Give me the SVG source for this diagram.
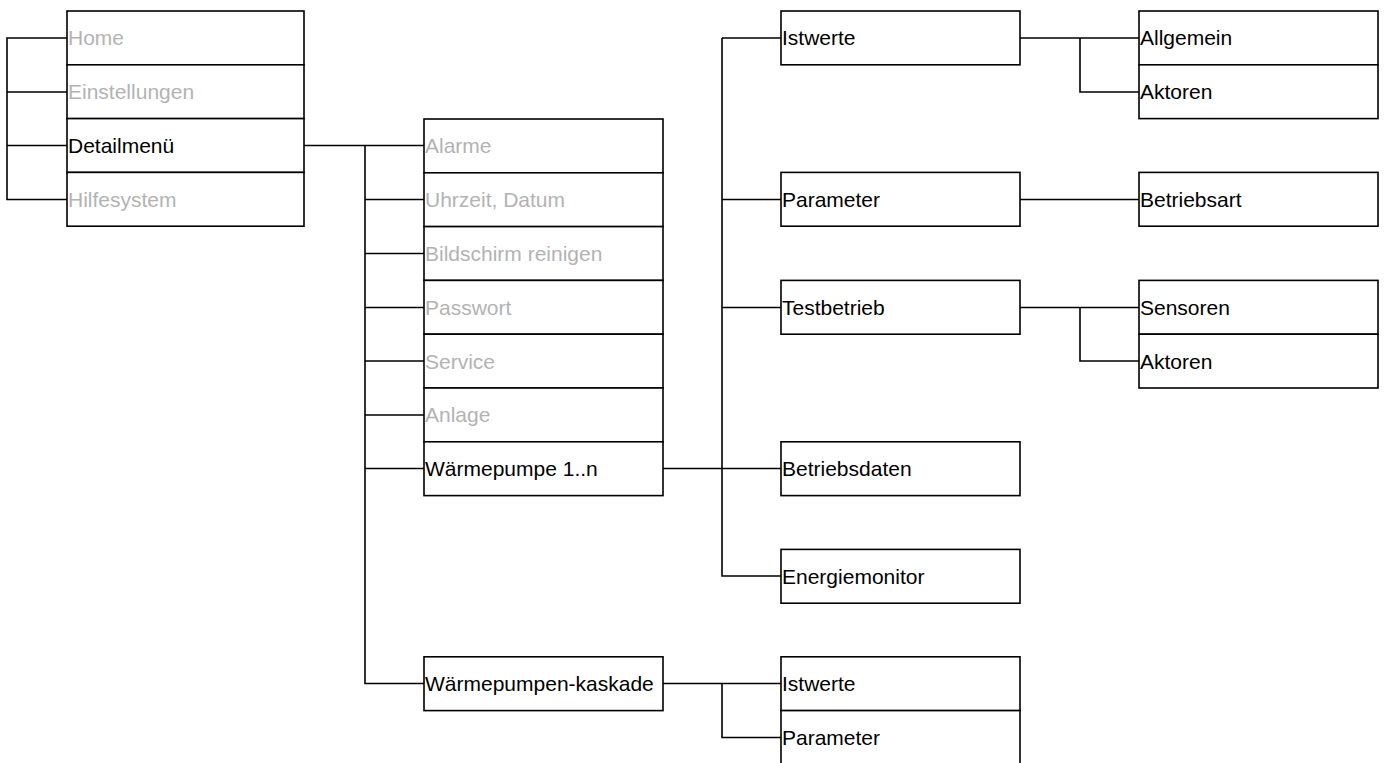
<svg xmlns="http://www.w3.org/2000/svg" width="1391" height="763" viewBox="0 0 1391 763">
  <style>
    .box { fill: #ffffff; stroke: #000000; stroke-width: 1.6; }
    .lbl { font-family: "Liberation Sans", Arial, sans-serif; font-size: 21px; fill: #000000; }
    .dim { fill: #b3b3b3; }
    .wire { fill: none; stroke: #000000; stroke-width: 1.6; }
  </style>
  <rect width="1391" height="763" fill="#ffffff"/>

  <!-- tree lines -->
  <g id="connectors">
    <!-- main menu bracket -->
    <path class="wire" d="M67 38 H7 V199.5 H67 M7 92 H67 M7 145.5 H67"/>
    <!-- Detailmenü submenu -->
    <path class="wire" d="M304 145.5 H424 M365 145.5 V683.5 H424 M365 199.5 H424 M365 253.5 H424 M365 307.5 H424 M365 361 H424 M365 415 H424 M365 468.5 H424"/>
    <!-- Wärmepumpe 1..n submenu -->
    <path class="wire" d="M663 468.5 H781 M722 38 V576 H781 M722 38 H781 M722 199.5 H781 M722 307.5 H781"/>
    <!-- Istwerte -->
    <path class="wire" d="M1020 38 H1139 M1080 38 V92 H1139"/>
    <!-- Parameter -->
    <path class="wire" d="M1020 199.5 H1139"/>
    <!-- Testbetrieb -->
    <path class="wire" d="M1020 307.5 H1139 M1080 307.5 V361 H1139"/>
    <!-- Wärmepumpen-kaskade -->
    <path class="wire" d="M663 683.5 H781 M722 683.5 V737.5 H781"/>
  </g>

  <!-- main menu -->
  <g id="home"><rect class="box" x="67" y="11" width="237" height="53.8"/><text class="lbl dim" x="68" y="45.3">Home</text></g>
  <g id="einstellungen"><rect class="box" x="67" y="64.8" width="237" height="53.8"/><text class="lbl dim" x="68" y="99.1">Einstellungen</text></g>
  <g id="detailmenue"><rect class="box" x="67" y="118.6" width="237" height="53.8"/><text class="lbl" x="68" y="152.9">Detailmenü</text></g>
  <g id="hilfesystem"><rect class="box" x="67" y="172.4" width="237" height="53.8"/><text class="lbl dim" x="68" y="206.7">Hilfesystem</text></g>

  <!-- Detailmenü entries -->
  <g id="alarme"><rect class="box" x="424" y="119" width="239" height="53.8"/><text class="lbl dim" x="425" y="153.3">Alarme</text></g>
  <g id="uhrzeit"><rect class="box" x="424" y="172.8" width="239" height="53.8"/><text class="lbl dim" x="425" y="207.1">Uhrzeit, Datum</text></g>
  <g id="bildschirm"><rect class="box" x="424" y="226.6" width="239" height="53.8"/><text class="lbl dim" x="425" y="260.9">Bildschirm reinigen</text></g>
  <g id="passwort"><rect class="box" x="424" y="280.4" width="239" height="53.8"/><text class="lbl dim" x="425" y="314.7">Passwort</text></g>
  <g id="service"><rect class="box" x="424" y="334.2" width="239" height="53.8"/><text class="lbl dim" x="425" y="368.5">Service</text></g>
  <g id="anlage"><rect class="box" x="424" y="388" width="239" height="53.8"/><text class="lbl dim" x="425" y="422.3">Anlage</text></g>
  <g id="waermepumpe"><rect class="box" x="424" y="441.8" width="239" height="53.8"/><text class="lbl" x="425" y="476.1">Wärmepumpe 1..n</text></g>
  <g id="kaskade"><rect class="box" x="424" y="656.8" width="239" height="53.8"/><text class="lbl" x="425" y="691.1">Wärmepumpen-kaskade</text></g>

  <!-- Wärmepumpe 1..n entries -->
  <g id="wp-istwerte"><rect class="box" x="781" y="11" width="239" height="53.8"/><text class="lbl" x="782" y="45.3">Istwerte</text></g>
  <g id="wp-parameter"><rect class="box" x="781" y="172.4" width="239" height="53.8"/><text class="lbl" x="782" y="206.7">Parameter</text></g>
  <g id="wp-testbetrieb"><rect class="box" x="781" y="280.4" width="239" height="53.8"/><text class="lbl" x="782" y="314.7">Testbetrieb</text></g>
  <g id="wp-betriebsdaten"><rect class="box" x="781" y="441.8" width="239" height="53.8"/><text class="lbl" x="782" y="476.1">Betriebsdaten</text></g>
  <g id="wp-energiemonitor"><rect class="box" x="781" y="549.4" width="239" height="53.8"/><text class="lbl" x="782" y="583.7">Energiemonitor</text></g>

  <!-- Kaskade entries -->
  <g id="k-istwerte"><rect class="box" x="781" y="656.8" width="239" height="53.8"/><text class="lbl" x="782" y="691.1">Istwerte</text></g>
  <g id="k-parameter"><rect class="box" x="781" y="710.6" width="239" height="53.8"/><text class="lbl" x="782" y="744.9">Parameter</text></g>

  <!-- third level -->
  <g id="allgemein"><rect class="box" x="1139" y="11" width="239" height="53.8"/><text class="lbl" x="1140" y="45.3">Allgemein</text></g>
  <g id="ist-aktoren"><rect class="box" x="1139" y="64.8" width="239" height="53.8"/><text class="lbl" x="1140" y="99.1">Aktoren</text></g>
  <g id="betriebsart"><rect class="box" x="1139" y="172.4" width="239" height="53.8"/><text class="lbl" x="1140" y="206.7">Betriebsart</text></g>
  <g id="sensoren"><rect class="box" x="1139" y="280.4" width="239" height="53.8"/><text class="lbl" x="1140" y="314.7">Sensoren</text></g>
  <g id="test-aktoren"><rect class="box" x="1139" y="334.2" width="239" height="53.8"/><text class="lbl" x="1140" y="368.5">Aktoren</text></g>
</svg>
